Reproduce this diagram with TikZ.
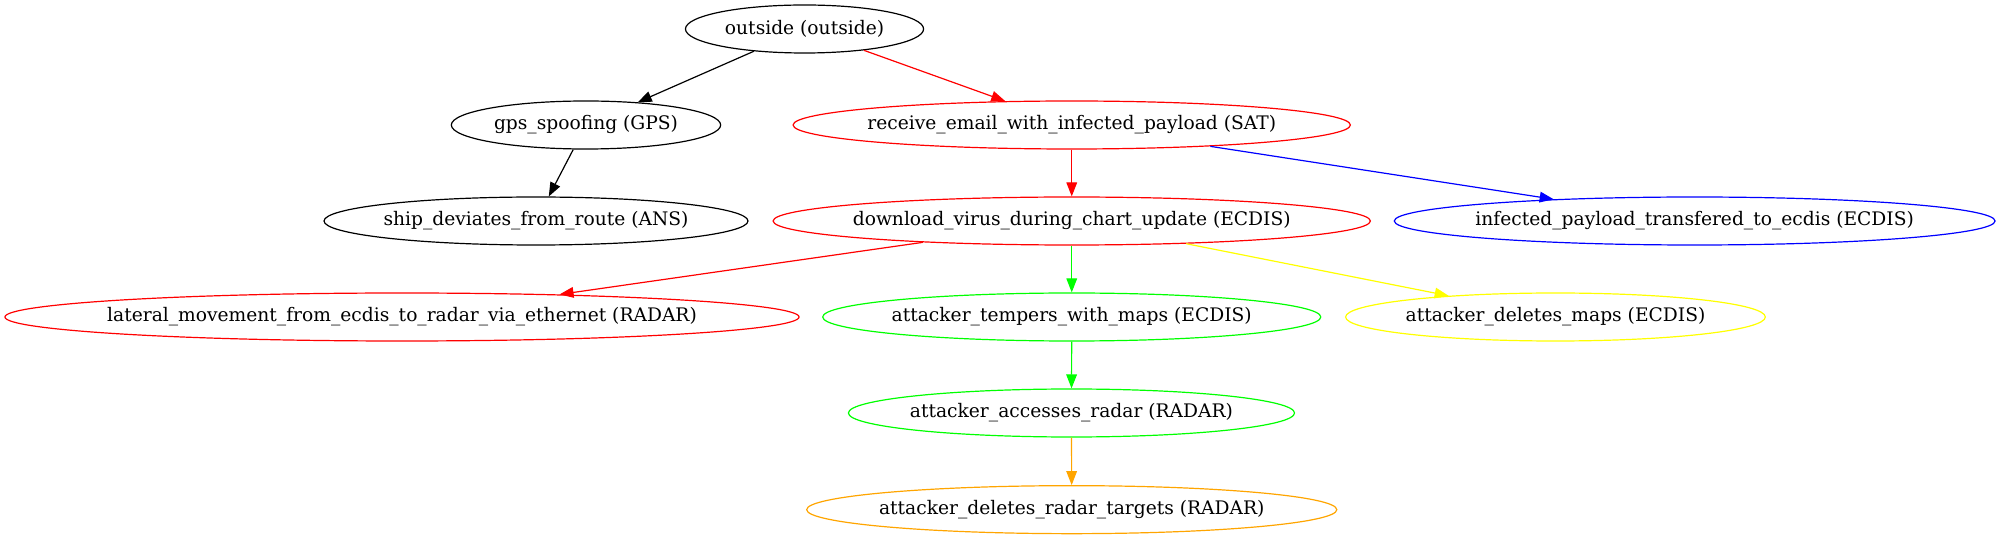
\documentclass[tikz,border=0pt]{standalone}
\usepackage{fontspec}
\setmainfont{DejaVu Serif}
\usetikzlibrary{shapes.geometric,arrows.meta}
\definecolor{gvred}{HTML}{FF0000}
\definecolor{gvgreen}{HTML}{00FF00}
\definecolor{gvblue}{HTML}{0000FF}
\definecolor{gvyellow}{HTML}{FFFF00}
\definecolor{gvorange}{HTML}{FFA500}
\tikzset{
  gvnode/.style={ellipse, draw, line width=0.9pt, inner sep=0pt, minimum height=36pt,
    font=\fontsize{14}{16.8}\selectfont, text=black},
  gvedge/.style={line width=0.9pt, -{Triangle[length=10.5pt,width=8pt]}},
}
\newcommand{\lbl}[1]{\makebox[0pt]{#1}}
\begin{document}
\begin{tikzpicture}[x=1pt,y=1pt]
\useasboundingbox (0,0) rectangle (1497.75,404.25);
% row 1
\node[gvnode, minimum width=178.6pt] (outside) at (603.4,382.5) {\lbl{outside (outside)}};
% row 2
\node[gvnode, minimum width=202pt] (gps) at (439.5,310.5) {\lbl{gps\_spoofing (GPS)}};
\node[gvnode, draw=gvred, minimum width=418pt] (receive) at (803.8,310.5) {\lbl{receive\_email\_with\_infected\_payload (SAT)}};
% row 3
\node[gvnode, minimum width=318pt] (ship) at (402,238.5) {\lbl{ship\_deviates\_from\_route (ANS)}};
\node[gvnode, draw=gvred, minimum width=448pt] (download) at (803.8,238.5) {\lbl{download\_virus\_during\_chart\_update (ECDIS)}};
\node[gvnode, draw=gvblue, minimum width=450.6pt] (infected) at (1271,238.5) {\lbl{infected\_payload\_transfered\_to\_ecdis (ECDIS)}};
% row 4
\node[gvnode, draw=gvred, minimum width=595.6pt] (lateral) at (301.5,166.5) {\lbl{lateral\_movement\_from\_ecdis\_to\_radar\_via\_ethernet (RADAR)}};
\node[gvnode, draw=gvgreen, minimum width=373.6pt] (tempers) at (803.8,166.5) {\lbl{attacker\_tempers\_with\_maps (ECDIS)}};
\node[gvnode, draw=gvyellow, minimum width=314.8pt] (delmaps) at (1166.6,166.5) {\lbl{attacker\_deletes\_maps (ECDIS)}};
% row 5
\node[gvnode, draw=gvgreen, minimum width=334.6pt] (accesses) at (803.6,94.5) {\lbl{attacker\_accesses\_radar (RADAR)}};
% row 6
\node[gvnode, draw=gvorange, minimum width=397.6pt] (targets) at (803.8,22) {\lbl{attacker\_deletes\_radar\_targets (RADAR)}};
% edges
\draw[gvedge] (outside) -- (gps);
\draw[gvedge, gvred] (outside) -- (receive);
\draw[gvedge] (gps) -- (ship);
\draw[gvedge, gvred] (receive) -- (download);
\draw[gvedge, gvblue] (receive) -- (infected);
\draw[gvedge, gvred] (download) -- (lateral);
\draw[gvedge, gvgreen] (download) -- (tempers);
\draw[gvedge, gvyellow] (download) -- (delmaps);
\draw[gvedge, gvgreen] (tempers) -- (accesses);
\draw[gvedge, gvorange] (accesses) -- (targets);
\end{tikzpicture}
\end{document}
